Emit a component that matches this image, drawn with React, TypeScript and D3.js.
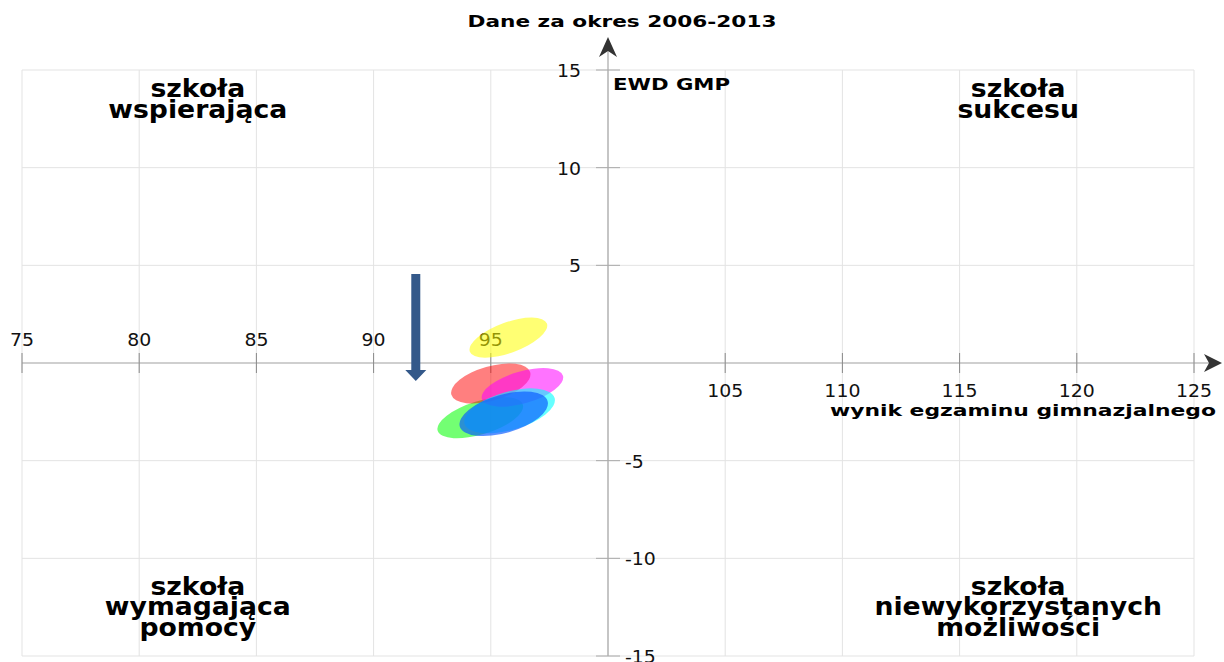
import React, { useEffect, useRef } from "react";
import * as d3 from "d3";

// axis ticks
const xTicks = [75, 80, 85, 90, 95, 100, 105, 110, 115, 120, 125];
const yTicks = [-15, -10, -5, 0, 5, 10, 15];

// ellipses (draw order): center, semi-axis along x (x units), semi-axis (y units), tilt in degrees
const ellipseNames = ["green", "red", "magenta", "cyan", "blue", "yellow"];
const ellipseX = [94.55, 95.0, 96.35, 95.8, 95.55, 95.75];
const ellipseY = [-2.8, -1.05, -1.25, -2.45, -2.6, 1.3];
const ellipseA = [1.9, 1.75, 1.8, 2.0, 1.95, 1.75];
const ellipseB = [0.85, 0.88, 0.82, 0.98, 0.98, 0.78];
const ellipseTilt = [17, 16, 16, 16, 16, 20];
const ellipseColors = ["#00ff00", "#ff0000", "#ff00ff", "#00ffff", "#0a5cff", "#ffff00"];
const ellipseOpacity = [0.55, 0.5, 0.55, 0.6, 0.68, 0.55];

// arrow marking the trend
const arrowX = 91.8;
const arrowFrom = 4.55;
const arrowTo = -0.92;

// quadrant captions, positioned in data units
const quadrants = [
  { lines: ["szkoła", "wspierająca"], x: 82.5, y: 13.6 },
  { lines: ["szkoła", "sukcesu"], x: 117.5, y: 13.6 },
  { lines: ["szkoła", "wymagająca", "pomocy"], x: 82.5, y: -11.87 },
  { lines: ["szkoła", "niewykorzystanych", "możliwości"], x: 117.5, y: -11.87 },
];

const W = 1224, H = 662;

function App() {
  const ref = useRef<SVGSVGElement>(null);

  useEffect(() => {
    const svg = d3.select(ref.current);
    svg.selectAll("*").remove();

    const x = d3.scaleLinear().domain([75, 125]).range([22, 1194]);
    const y = d3.scaleLinear().domain([-15, 15]).range([656, 70]);
    const font = "DejaVu Sans, sans-serif";

    // grid
    const grid = svg.append("g");
    grid.selectAll("line.v").data(xTicks).enter().append("line")
      .attr("x1", d => x(d)).attr("x2", d => x(d))
      .attr("y1", y(15)).attr("y2", y(-15))
      .attr("stroke", "#e3e3e3").attr("stroke-width", 1);
    grid.selectAll("line.h").data(yTicks).enter().append("line")
      .attr("x1", x(75)).attr("x2", x(125))
      .attr("y1", d => y(d)).attr("y2", d => y(d))
      .attr("stroke", "#e3e3e3").attr("stroke-width", 1);

    // axes
    const x0 = x(100), y0 = y(0);
    svg.append("line")
      .attr("x1", x(75)).attr("x2", x(125) + 22)
      .attr("y1", y0).attr("y2", y0)
      .attr("stroke", "#cfcfcf").attr("stroke-width", 2);
    svg.append("line")
      .attr("x1", x0).attr("x2", x0)
      .attr("y1", y(-15)).attr("y2", y(15) - 22)
      .attr("stroke", "#a8a8a8").attr("stroke-width", 1.2);

    // arrowheads
    const xe = x(125) + 28;
    svg.append("path")
      .attr("d", `M${xe},${y0} L${xe - 18},${y0 - 9} L${xe - 13},${y0} L${xe - 18},${y0 + 9} Z`)
      .attr("fill", "#333");
    const ye = y(15) - 33;
    svg.append("path")
      .attr("d", `M${x0},${ye} L${x0 + 9},${ye + 20} L${x0},${ye + 14} L${x0 - 9},${ye + 20} Z`)
      .attr("fill", "#333");

    // ticks
    svg.selectAll("line.xt").data(xTicks.filter(d => d !== 100)).enter().append("line")
      .attr("x1", d => x(d)).attr("x2", d => x(d))
      .attr("y1", y0 - 10).attr("y2", y0 + 10)
      .attr("stroke", "#888").attr("stroke-width", 1);
    svg.selectAll("line.yt").data(yTicks.filter(d => d !== 0)).enter().append("line")
      .attr("x1", x0 - 12).attr("x2", x0 + 12)
      .attr("y1", d => y(d)).attr("y2", d => y(d))
      .attr("stroke", "#aaa").attr("stroke-width", 1);

    // tick labels (slightly wide, like the original)
    svg.selectAll("text.xl").data(xTicks.filter(d => d !== 100)).enter().append("text")
      .attr("transform", d => `translate(${x(d)},${d < 100 ? y0 - 17 : y0 + 34}) scale(1.08,1)`)
      .attr("text-anchor", "middle")
      .attr("font-family", font).attr("font-size", 17.5).attr("fill", "#111")
      .text(d => d);
    svg.selectAll("text.yl").data(yTicks.filter(d => d !== 0)).enter().append("text")
      .attr("transform", d => `translate(${d > 0 ? x0 - 27 : x0 + 17},${y(d) + 7}) scale(1.08,1)`)
      .attr("text-anchor", d => (d > 0 ? "end" : "start"))
      .attr("font-family", font).attr("font-size", 17.5).attr("fill", "#111")
      .text(d => d);

    // ellipses
    const eg = svg.append("g");
    ellipseNames.forEach((_, i) => {
      const cx = x(ellipseX[i]), cy = y(ellipseY[i]);
      const rx = x(ellipseX[i] + ellipseA[i]) - cx;
      const ry = cy - y(ellipseY[i] + ellipseB[i]);
      eg.append("ellipse")
        .attr("cx", cx).attr("cy", cy).attr("rx", rx).attr("ry", ry)
        .attr("transform", `rotate(${-ellipseTilt[i]},${cx},${cy})`)
        .attr("fill", ellipseColors[i]).attr("fill-opacity", ellipseOpacity[i]);
    });

    // trend arrow
    const ax = x(arrowX), a1 = y(arrowFrom), a2 = y(arrowTo);
    svg.append("path")
      .attr("d", `M${ax - 4.5},${a1} L${ax + 4.5},${a1} L${ax + 4.5},${a2 - 11} L${ax + 10.5},${a2 - 11} L${ax},${a2} L${ax - 10.5},${a2 - 11} L${ax - 4.5},${a2 - 11} Z`)
      .attr("fill", "#34598a");

    // title and axis names
    svg.append("text")
      .attr("x", 622).attr("y", 27).attr("text-anchor", "middle")
      .attr("font-family", font).attr("font-weight", "bold").attr("font-size", 16)
      .attr("textLength", 309).attr("lengthAdjust", "spacingAndGlyphs")
      .text("Dane za okres 2006-2013");
    svg.append("text")
      .attr("x", x0 + 5).attr("y", y(15) + 20)
      .attr("font-family", font).attr("font-weight", "bold").attr("font-size", 16)
      .attr("textLength", 117).attr("lengthAdjust", "spacingAndGlyphs")
      .text("EWD GMP");
    svg.append("text")
      .attr("x", 1216).attr("y", y0 + 53).attr("text-anchor", "end")
      .attr("font-family", font).attr("font-weight", "bold").attr("font-size", 16)
      .attr("textLength", 386).attr("lengthAdjust", "spacingAndGlyphs")
      .text("wynik egzaminu gimnazjalnego");

    // quadrant labels: large bold, tight leading, a little wide
    quadrants.forEach(q => {
      const t = svg.append("text")
        .attr("transform", `translate(${x(q.x)},${y(q.y)}) scale(1.09,1)`)
        .attr("text-anchor", "middle")
        .attr("font-family", font).attr("font-weight", "bold").attr("font-size", 24.5)
        .attr("fill", "#000");
      q.lines.forEach((l, i) => {
        t.append("tspan").attr("x", 0).attr("dy", i === 0 ? 0 : 20.5).text(l);
      });
    });
  }, []);

  return (
    <svg ref={ref} width={W} height={H}
      style={{ position: "absolute", left: 0, top: 0, background: "#fff" }} />
  );
}

export default App;
